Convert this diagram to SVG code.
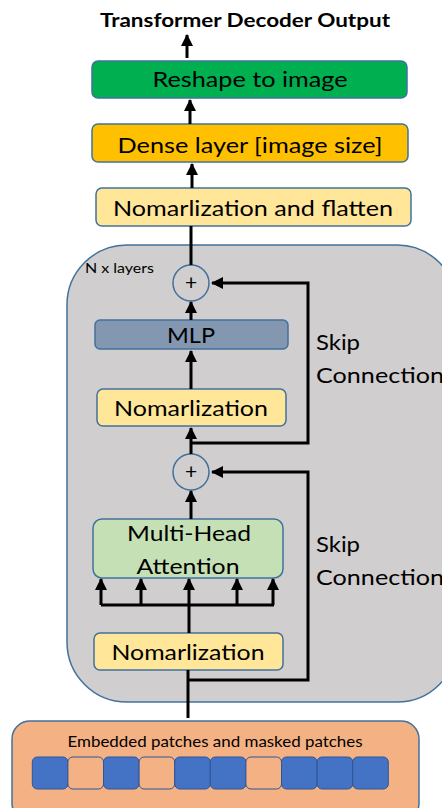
<svg xmlns="http://www.w3.org/2000/svg" width="442" height="808" viewBox="0 0 442 808">
<style>
  text { font-family: Lato, "Open Sans", "Liberation Sans", sans-serif; fill: #000; }
  .lbl { font-size: 22px; text-anchor: middle; }
  .box { stroke: #41719C; stroke-width: 1.5; }
  .conn { stroke: #000; stroke-width: 3; fill: none; }
  .patch { stroke: #2F5597; stroke-width: 1; }
  .plus { font-size: 21px; text-anchor: middle; }
</style>
<defs>
  <marker id="ah" markerUnits="userSpaceOnUse" markerWidth="12" markerHeight="12" refX="11" refY="6" orient="auto">
    <path d="M0,0 L12,6 L0,12 Z" fill="#000"/>
  </marker>
</defs>
<rect width="442" height="808" fill="#fff"/>

<g id="container">
  <rect x="67" y="245" width="390" height="457" rx="60" ry="60" fill="#D0CECE" stroke="#41719C" stroke-width="1.5"/>
  <text x="85" y="273" font-size="14" textLength="69" lengthAdjust="spacingAndGlyphs">N x layers</text>
</g>

<g id="title">
  <text x="245" y="27" font-size="18" font-weight="bold" text-anchor="middle" textLength="290" lengthAdjust="spacingAndGlyphs">Transformer Decoder Output</text>
</g>

<g id="reshape">
  <rect class="box" x="92" y="61" width="315" height="37" rx="6" fill="#00B050"/>
  <text class="lbl" x="250" y="87" textLength="195" lengthAdjust="spacingAndGlyphs">Reshape to image</text>
</g>

<g id="dense">
  <rect class="box" x="92" y="124" width="316" height="38" rx="6" fill="#FFC000"/>
  <text class="lbl" x="250" y="153" textLength="265" lengthAdjust="spacingAndGlyphs">Dense layer [image size]</text>
</g>

<g id="normflatten">
  <rect class="box" x="96" y="188" width="315" height="38" rx="6" fill="#FFE699"/>
  <text class="lbl" x="253" y="216" textLength="280" lengthAdjust="spacingAndGlyphs">Nomarlization and flatten</text>
</g>

<g id="plus1">
  <circle cx="191" cy="283" r="18" fill="none" stroke="#41719C" stroke-width="1.5"/>
  <text class="plus" x="191" y="290">+</text>
</g>

<g id="mlp">
  <rect class="box" x="95" y="320" width="193" height="29" rx="5" fill="#8497B0"/>
  <text class="lbl" x="191" y="343" textLength="48" lengthAdjust="spacingAndGlyphs">MLP</text>
</g>

<g id="norm1">
  <rect class="box" x="97" y="389" width="189" height="37" rx="6" fill="#FFE699"/>
  <text class="lbl" x="191" y="416" textLength="154" lengthAdjust="spacingAndGlyphs">Nomarlization</text>
</g>

<g id="skip1">
  <text x="316" y="350" font-size="22" textLength="44" lengthAdjust="spacingAndGlyphs">Skip</text>
  <text x="316" y="383" font-size="22" textLength="128" lengthAdjust="spacingAndGlyphs">Connection</text>
</g>

<g id="plus2">
  <circle cx="191" cy="472" r="18" fill="none" stroke="#41719C" stroke-width="1.5"/>
  <text class="plus" x="191" y="479">+</text>
</g>

<g id="mha">
  <rect class="box" x="93" y="519" width="190" height="59" rx="9" fill="#C5E0B4"/>
  <text class="lbl" x="189" y="541" textLength="124" lengthAdjust="spacingAndGlyphs">Multi-Head</text>
  <text class="lbl" x="188" y="574" textLength="103" lengthAdjust="spacingAndGlyphs">Attention</text>
</g>

<g id="norm2">
  <rect class="box" x="94" y="633" width="189" height="37" rx="6" fill="#FFE699"/>
  <text class="lbl" x="188" y="660" textLength="153" lengthAdjust="spacingAndGlyphs">Nomarlization</text>
</g>

<g id="skip2">
  <text x="316" y="552" font-size="22" textLength="44" lengthAdjust="spacingAndGlyphs">Skip</text>
  <text x="316" y="585" font-size="22" textLength="128" lengthAdjust="spacingAndGlyphs">Connection</text>
</g>

<g id="patches">
  <rect class="box" x="12" y="721" width="407" height="100" rx="18" fill="#F4B183"/>
  <text x="215" y="747" font-size="16" text-anchor="middle" textLength="295" lengthAdjust="spacingAndGlyphs">Embedded patches and masked patches</text>
  <rect class="patch" x="32.3" y="757" width="35.6" height="32" rx="5" fill="#4472C4"/>
  <rect class="patch" x="67.9" y="757" width="35.6" height="32" rx="5" fill="#F4B183"/>
  <rect class="patch" x="103.5" y="757" width="35.6" height="32" rx="5" fill="#4472C4"/>
  <rect class="patch" x="139.1" y="757" width="35.6" height="32" rx="5" fill="#F4B183"/>
  <rect class="patch" x="174.7" y="757" width="35.6" height="32" rx="5" fill="#4472C4"/>
  <rect class="patch" x="210.3" y="757" width="35.6" height="32" rx="5" fill="#4472C4"/>
  <rect class="patch" x="245.9" y="757" width="35.6" height="32" rx="5" fill="#F4B183"/>
  <rect class="patch" x="281.5" y="757" width="35.6" height="32" rx="5" fill="#4472C4"/>
  <rect class="patch" x="317.1" y="757" width="35.6" height="32" rx="5" fill="#4472C4"/>
  <rect class="patch" x="352.7" y="757" width="35.6" height="32" rx="5" fill="#4472C4"/>
</g>

<g id="connectors">
  <line class="conn" x1="187" y1="58" x2="187" y2="35" marker-end="url(#ah)"/>
  <line class="conn" x1="190" y1="124" x2="190" y2="100" marker-end="url(#ah)"/>
  <line class="conn" x1="192" y1="188" x2="192" y2="164" marker-end="url(#ah)"/>
  <line class="conn" x1="191" y1="265" x2="191" y2="226"/>
  <line class="conn" x1="191" y1="320" x2="191" y2="302" marker-end="url(#ah)"/>
  <line class="conn" x1="191" y1="389" x2="191" y2="351" marker-end="url(#ah)"/>
  <line class="conn" x1="191" y1="454" x2="191" y2="428" marker-end="url(#ah)"/>
  <polyline class="conn" points="191,443 308,443 308,283 212,283" marker-end="url(#ah)"/>
  <line class="conn" x1="191" y1="519" x2="191" y2="491" marker-end="url(#ah)"/>
  <polyline class="conn" points="188,680 308,680 308,472 212,472" marker-end="url(#ah)"/>
  <line class="conn" x1="188" y1="718" x2="188" y2="670"/>
  <line class="conn" x1="189" y1="633" x2="189" y2="579" marker-end="url(#ah)"/>
  <line class="conn" x1="101" y1="605" x2="274" y2="605"/>
  <line class="conn" x1="101" y1="605" x2="101" y2="579" marker-end="url(#ah)"/>
  <line class="conn" x1="141" y1="605" x2="141" y2="579" marker-end="url(#ah)"/>
  <line class="conn" x1="237" y1="605" x2="237" y2="579" marker-end="url(#ah)"/>
  <line class="conn" x1="273" y1="605" x2="273" y2="579" marker-end="url(#ah)"/>
</g>
</svg>
